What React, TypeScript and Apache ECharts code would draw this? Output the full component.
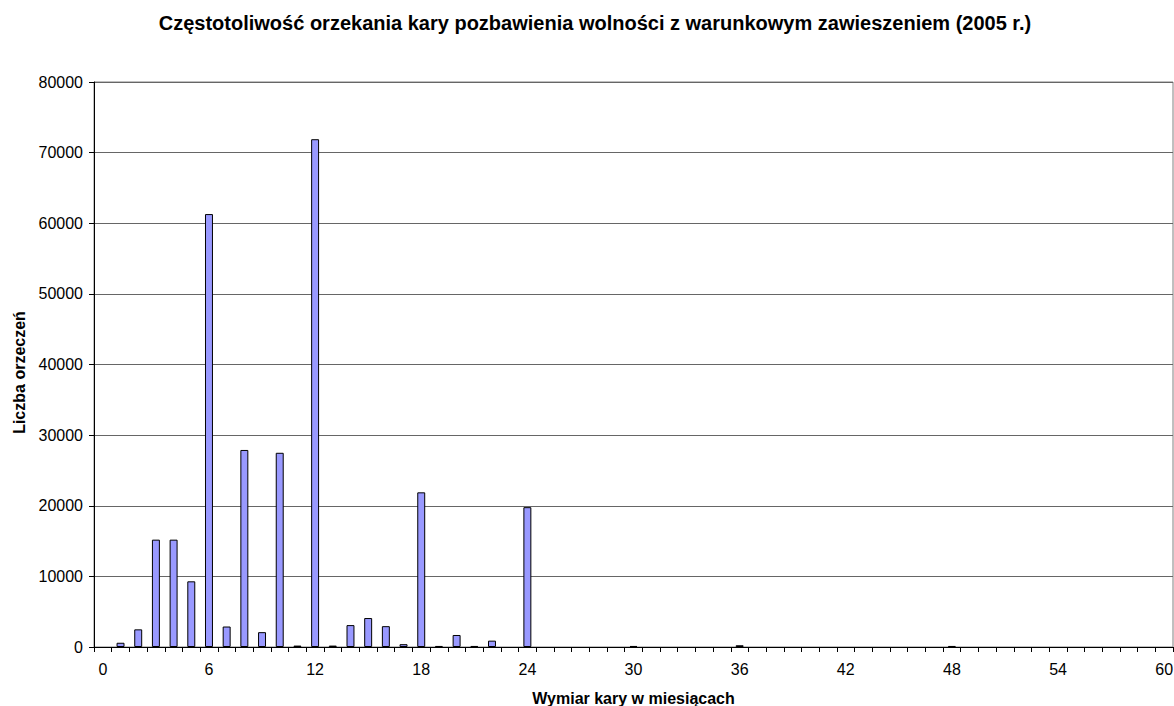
import React, { useEffect, useRef } from "react";
import * as echarts from "echarts";

const categories: string[] = Array.from({ length: 61 }, (_, i) => String(i));

// Liczba orzeczeń for each month value 0..60
const counts: number[] = [
  0, 600, 2500, 15200, 15200, 9300, 61300, 2900, 27900, 2100,
  27500, 200, 71900, 200, 3100, 4100, 2950, 400, 21900, 150,
  1700, 150, 900, 0, 19800, 0, 0, 0, 0, 0,
  150, 0, 0, 0, 0, 0, 250, 0, 0, 0,
  0, 0, 0, 0, 0, 0, 0, 0, 150, 0,
  0, 0, 0, 0, 0, 0, 0, 0, 0, 0, 0,
];

const yTicks = { min: 0, max: 80000, interval: 10000 };

const titleText =
  "Częstotoliwość orzekania kary pozbawienia wolności z warunkowym zawieszeniem (2005 r.)";
const xName = "Wymiar kary w miesiącach";
const yName = "Liczba orzeczeń";

export default function App() {
  const ref = useRef<HTMLDivElement>(null);
  useEffect(() => {
    if (!ref.current) return;
    const chart = echarts.init(ref.current, null, { renderer: "svg" });
    const font = "Liberation Sans, Arial, sans-serif";
    chart.setOption({
      animation: false,
      backgroundColor: "#ffffff",
      title: {
        text: titleText,
        left: 590,
        textAlign: "center",
        top: 8,
        textStyle: { fontFamily: font, fontSize: 20, fontWeight: "bold", color: "#000" },
      },
      grid: {
        left: 94,
        right: 1,
        top: 82,
        bottom: 59,
        containLabel: false,
        outerBoundsMode: "none",
        show: true,
        borderColor: "#808080",
        borderWidth: 1,
        backgroundColor: "transparent",
      },
      xAxis: {
        type: "category",
        data: categories,
        boundaryGap: true,
        name: xName,
        nameLocation: "middle",
        nameGap: 43,
        nameTextStyle: { fontFamily: font, fontSize: 16, fontWeight: "bold", color: "#000" },
        axisLine: { show: true, lineStyle: { color: "#000", width: 1 } },
        axisTick: { show: true, interval: 0, alignWithLabel: false, length: 5, lineStyle: { color: "#000" } },
        axisLabel: {
          interval: 5,
          margin: 14,
          fontFamily: font,
          fontSize: 16,
          color: "#000",
        },
        splitLine: { show: false },
      },
      yAxis: {
        type: "value",
        min: yTicks.min,
        max: yTicks.max,
        interval: yTicks.interval,
        name: yName,
        nameLocation: "middle",
        nameGap: 67,
        nameRotate: 90,
        nameTextStyle: {
          fontFamily: font,
          fontSize: 16,
          fontWeight: "bold",
          color: "#000",
          padding: [0, 16, 0, 0],
        },
        axisLine: { show: true, lineStyle: { color: "#000", width: 1 } },
        axisTick: { show: true, length: 5, lineStyle: { color: "#000" } },
        axisLabel: {
          margin: 11,
          fontFamily: font,
          fontSize: 16,
          color: "#000",
          formatter: (v: number) => String(v),
        },
        splitLine: { show: true, lineStyle: { color: "#666", width: 1 } },
      },
      series: [
        {
          type: "bar",
          data: counts.map((v) => (v === 0 ? "-" : v)),
          barWidth: "45%",
          itemStyle: { color: "#9999FF", borderColor: "#000", borderWidth: 1 },
        },
      ],
    });
    return () => chart.dispose();
  }, []);
  return (
    <div
      ref={ref}
      style={{ position: "fixed", left: 0, top: 0, width: 1174, height: 706 }}
    />
  );
}
